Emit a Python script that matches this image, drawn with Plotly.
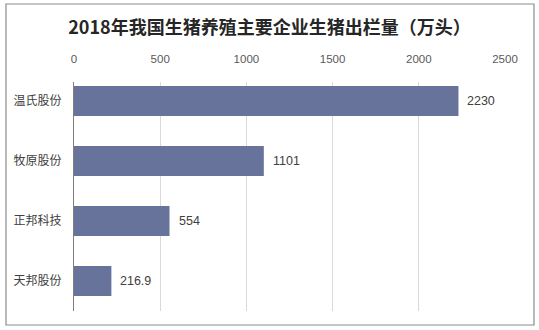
import plotly.graph_objects as go

companies = ["温氏股份", "牧原股份", "正邦科技", "天邦股份"]
values = [2230, 1101, 554, 216.9]
labels = ["2230", "1101", "554", "216.9"]
x_ticks = [0, 500, 1000, 1500, 2000, 2500]

fig = go.Figure(go.Bar(
    x=values, y=companies, orientation="h",
    marker=dict(color="#67739A", line=dict(width=0)),
    width=0.5, hoverinfo="skip",
))

for c, v, t in zip(companies, values, labels):
    fig.add_annotation(x=v, y=c, text=t, showarrow=False, xanchor="left",
                       xshift=7, yanchor="middle",
                       font=dict(family="Liberation Sans, Arial", size=12.5, color="#404040"))

fig.update_layout(
    width=539, height=330,
    margin=dict(l=74, r=34, t=82, b=19),
    paper_bgcolor="white", plot_bgcolor="white",
    showlegend=False,
    title=dict(text="<b>2018年我国生猪养殖主要企业生猪出栏量（万头）</b>",
               x=0.5, xanchor="center", y=1 - 28/330, yanchor="middle",
               font=dict(family="Noto Sans CJK SC, sans-serif", size=18, color="#262626")),
    xaxis=dict(side="top", range=[0, 2500], tickvals=x_ticks,
               ticktext=[str(v) for v in x_ticks],
               showgrid=True, gridcolor="#D9D9D9", gridwidth=1,
               zeroline=False, showline=False, ticks="",
               ticklabelstandoff=16,
               tickfont=dict(family="Liberation Sans, Arial", size=11.5, color="#595959")),
    yaxis=dict(range=[3.5, -0.317], showline=True, linecolor="#7F7F7F", linewidth=1,
               ticks="", showgrid=False, ticklabelstandoff=9,
               tickfont=dict(family="Noto Sans CJK SC, sans-serif", size=12, color="#404040")),
    shapes=[dict(type="rect", xref="paper", yref="paper",
                 x0=(6 - 74) / 431, x1=(534 - 74) / 431,
                 y0=(311 - 325) / 229, y1=(311 - 4) / 229,
                 line=dict(color="#8C8C8C", width=1.2), fillcolor="rgba(0,0,0,0)",
                 layer="below")],
)

fig.write_html("out.html")
